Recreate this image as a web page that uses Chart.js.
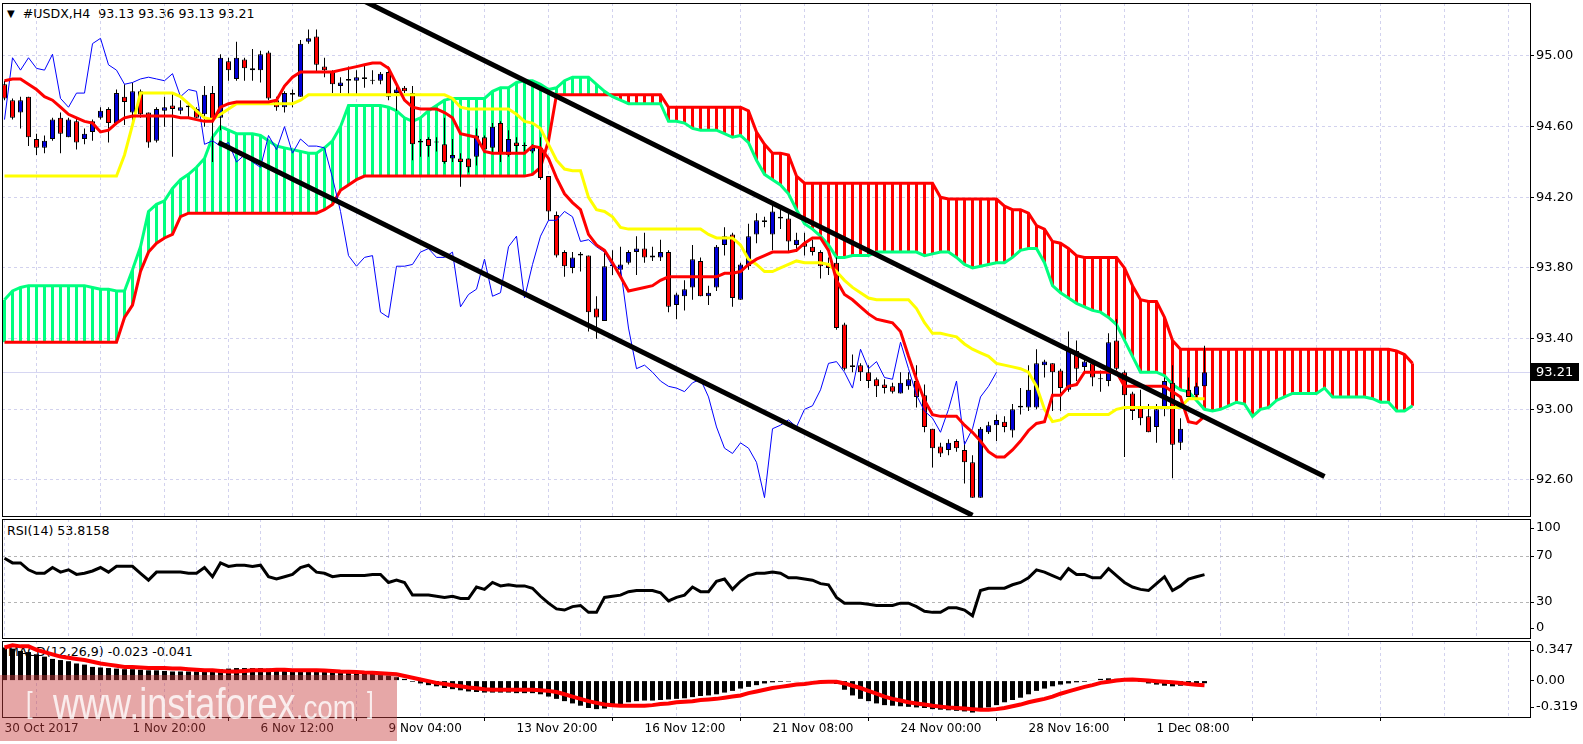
<!DOCTYPE html>
<html><head><meta charset="utf-8">
<script src="https://cdn.jsdelivr.net/npm/chart.js@4.4.1/dist/chart.umd.min.js"></script>
<style>
html,body{margin:0;padding:0;background:#fff;}
#wrap{position:relative;width:1583px;height:744px;overflow:hidden;background:#fff;font-family:"DejaVu Sans",sans-serif;}
canvas{position:absolute;left:0;}
.lbl{position:absolute;font-family:"DejaVu Sans",sans-serif;font-size:12.6px;line-height:14px;color:#000;white-space:pre;}
#title .tri{font-size:10px;vertical-align:1px;}
#wm{position:absolute;left:0;top:675px;width:397px;height:66px;background:rgba(200,60,60,0.45);}
#wm div{position:absolute;font-family:"Liberation Sans",sans-serif;color:rgba(255,255,255,0.8);white-space:pre;transform-origin:0 0;}
</style></head><body>
<div id="wrap">
  <div class="lbl" id="title" style="left:7px;top:7px;"></div>
  <div class="lbl" id="rsiLbl" style="left:7px;top:524px;"></div>
  <div class="lbl" id="macdLbl" style="left:8px;top:645px;"></div>
  <canvas id="cMain" width="1583" height="519" style="top:0px"></canvas>
  <canvas id="cRsi" width="1583" height="122" style="top:518px"></canvas>
  <canvas id="cMacd" width="1583" height="105" style="top:639px"></canvas>
  <div id="wm">
    <div style="left:26px;top:13px;font-size:30px;line-height:30px;transform:scaleX(0.8);">[</div>
    <div style="left:53px;top:7px;font-size:44px;line-height:44px;transform:scaleX(0.82);">www.instaforex<span style="font-size:34px">.com</span></div>
    <div style="left:367px;top:13px;font-size:30px;line-height:30px;transform:scaleX(0.8);">]</div>
  </div>
</div>
<script>
// ---------------- DATA ----------------
const symbol = '#USDX,H4';
const dateLabels = ['30 Oct 2017','1 Nov 20:00','6 Nov 12:00','9 Nov 04:00','13 Nov 20:00','16 Nov 12:00','21 Nov 08:00','24 Nov 00:00','28 Nov 16:00','1 Dec 08:00'];
const priceTicks = [92.60, 93.00, 93.40, 93.80, 94.20, 94.60, 95.00];
const rsiLevels = [0, 30, 70, 100];
const macdLevels = [-0.319, 0, 0.347];

const openP = [94.84,94.75,94.68,94.77,94.53,94.48,94.53,94.65,94.54,94.63,
94.53,94.57,94.65,94.70,94.62,94.77,94.68,94.80,94.68,94.52,
94.69,94.72,94.69,94.72,94.70,94.67,94.79,94.65,94.97,94.87,
94.98,94.93,94.92,95.02,94.75,94.71,94.78,94.77,95.08,95.11,
94.94,94.91,94.83,94.86,94.86,94.88,94.86,94.86,94.91,94.79,
94.82,94.79,94.51,94.53,94.51,94.50,94.42,94.42,94.42,94.43,
94.54,94.48,94.62,94.44,94.51,94.49,94.46,94.48,94.32,94.10,
93.89,93.80,93.88,93.87,93.57,93.50,93.82,93.79,93.83,93.89,
93.91,93.87,93.86,93.89,93.59,93.64,93.69,93.84,93.64,93.69,
93.93,93.99,93.62,93.81,93.99,94.06,93.99,94.08,94.08,93.93,
93.94,93.92,93.89,93.82,93.83,93.48,93.24,93.25,93.21,93.17,
93.14,93.13,93.09,93.13,93.16,93.08,92.89,92.79,92.77,92.82,
92.77,92.70,92.50,92.87,92.91,92.93,92.88,93.01,93.01,93.01,
93.25,93.26,93.22,93.11,93.33,93.24,93.26,93.17,93.16,93.39,
93.21,93.09,93.01,92.96,92.90,93.01,93.15,92.81,93.11,93.08,
93.13];
const highP = [94.86,94.76,94.77,94.77,94.56,94.55,94.65,94.68,94.65,94.65,
94.59,94.64,94.71,94.71,94.81,94.84,94.85,94.81,94.68,94.71,
94.77,94.79,94.75,94.74,94.71,94.83,94.83,95.01,94.99,95.08,
94.99,95.04,95.03,95.03,94.77,94.80,94.81,95.09,95.15,95.15,
94.99,94.92,94.88,94.94,94.92,94.95,94.92,94.91,94.94,94.84,
94.83,94.83,94.53,94.54,94.54,94.65,94.53,94.45,94.42,94.59,
94.55,94.62,94.63,94.58,94.54,94.51,94.50,94.54,94.32,94.12,
93.90,93.89,93.89,93.87,93.64,93.90,93.90,93.92,93.90,93.98,
94.00,93.92,93.96,93.90,93.66,93.73,93.93,93.86,93.70,93.93,
94.03,94.00,93.83,94.05,94.11,94.09,94.16,94.15,94.11,94.00,
94.00,93.96,93.90,93.86,93.86,93.49,93.31,93.26,93.25,93.18,
93.17,93.15,93.21,93.21,93.25,93.14,92.89,92.81,92.83,92.83,
92.82,92.74,92.90,92.93,92.97,92.96,93.03,93.12,93.25,93.34,
93.28,93.26,93.23,93.44,93.39,93.29,93.26,93.22,93.43,93.51,
93.22,93.10,93.11,93.03,93.03,93.18,93.25,92.95,93.18,93.15,
93.36];
const lowP = [94.75,94.64,94.59,94.49,94.44,94.45,94.52,94.45,94.54,94.47,
94.50,94.52,94.64,94.51,94.61,94.61,94.61,94.65,94.48,94.51,
94.60,94.43,94.67,94.65,94.65,94.60,94.40,94.58,94.86,94.86,
94.86,94.86,94.85,94.75,94.69,94.68,94.71,94.77,95.07,94.91,
94.88,94.79,94.79,94.78,94.78,94.82,94.84,94.84,94.75,94.69,
94.79,94.41,94.43,94.43,94.46,94.39,94.40,94.26,94.34,94.38,
94.45,94.45,94.40,94.43,94.45,94.46,94.45,94.30,94.07,93.86,
93.75,93.77,93.78,93.44,93.40,93.50,93.76,93.76,93.82,93.76,
93.83,93.84,93.84,93.55,93.51,93.56,93.62,93.64,93.59,93.67,
93.87,93.58,93.62,93.79,93.94,94.03,93.90,94.02,93.89,93.89,
93.87,93.87,93.74,93.76,93.45,93.22,93.21,93.16,93.12,93.07,
93.09,93.09,93.09,93.11,93.01,92.87,92.67,92.73,92.74,92.76,
92.58,92.50,92.50,92.86,92.82,92.87,92.84,92.97,92.99,93.00,
93.18,92.99,92.99,93.10,93.16,93.21,93.13,93.10,93.13,93.22,
92.73,92.94,92.91,92.87,92.81,92.96,92.61,92.77,93.07,93.07,
93.13];
const closeP = [94.76,94.65,94.75,94.54,94.48,94.52,94.64,94.56,94.64,94.51,
94.56,94.63,94.69,94.62,94.79,94.74,94.80,94.67,94.51,94.70,
94.71,94.70,94.71,94.71,94.65,94.78,94.64,94.99,94.92,94.99,
94.93,94.92,95.01,94.76,94.71,94.79,94.79,95.07,95.10,94.95,
94.92,94.84,94.85,94.87,94.88,94.87,94.86,94.90,94.77,94.81,
94.80,94.50,94.52,94.49,94.51,94.40,94.44,94.40,94.37,94.55,
94.47,94.60,94.45,94.53,94.49,94.49,94.48,94.31,94.12,93.87,
93.81,93.86,93.87,93.55,93.52,93.81,93.81,93.82,93.89,93.91,
93.86,93.86,93.89,93.58,93.65,93.68,93.85,93.64,93.66,93.92,
93.98,93.63,93.82,93.98,94.07,94.07,94.12,94.09,93.95,93.96,
93.92,93.89,93.81,93.80,93.46,93.23,93.25,93.21,93.16,93.13,
93.12,93.10,93.15,93.17,93.07,92.90,92.78,92.75,92.81,92.78,
92.70,92.50,92.89,92.91,92.94,92.90,93.00,93.02,93.11,93.26,
93.27,93.21,93.12,93.34,93.23,93.27,93.18,93.17,93.38,93.23,
93.08,92.99,92.95,92.87,93.00,93.16,92.80,92.89,93.07,93.13,
93.21];

const tenkan = [94.86,94.87,94.87,94.84,94.81,94.77,94.75,94.71,94.67,94.65,
94.63,94.62,94.57,94.58,94.62,94.65,94.66,94.66,94.66,94.66,
94.66,94.66,94.65,94.65,94.64,94.63,94.63,94.71,94.73,94.74,
94.74,94.74,94.74,94.74,94.75,94.83,94.88,94.91,94.91,94.91,
94.91,94.91,94.92,94.93,94.94,94.95,94.96,94.96,94.93,94.84,
94.75,94.71,94.70,94.70,94.70,94.68,94.65,94.56,94.55,94.54,
94.46,94.45,94.45,94.45,94.45,94.45,94.49,94.48,94.42,94.31,
94.22,94.17,94.13,93.99,93.93,93.90,93.83,93.75,93.67,93.68,
93.69,93.70,93.73,93.75,93.75,93.75,93.75,93.75,93.75,93.75,
93.77,93.77,93.78,93.82,93.85,93.87,93.89,93.89,93.89,93.90,
93.94,93.97,93.97,93.90,93.73,93.65,93.62,93.58,93.54,93.51,
93.50,93.49,93.44,93.30,93.17,93.05,92.97,92.96,92.96,92.96,
92.91,92.87,92.82,92.76,92.73,92.73,92.77,92.82,92.88,92.92,
92.93,93.08,93.08,93.13,93.14,93.21,93.21,93.21,93.21,93.21,
93.13,93.13,93.13,93.13,93.13,93.13,93.10,93.07,92.93,92.92,
92.96];
const kijun = [94.32,94.32,94.32,94.32,94.32,94.32,94.32,94.32,94.32,94.32,
94.32,94.32,94.32,94.32,94.32,94.44,94.61,94.79,94.79,94.79,
94.79,94.79,94.77,94.73,94.69,94.65,94.64,94.67,94.70,94.73,
94.73,94.73,94.73,94.73,94.73,94.73,94.73,94.75,94.78,94.78,
94.78,94.78,94.78,94.78,94.78,94.78,94.78,94.78,94.78,94.78,
94.78,94.78,94.78,94.78,94.78,94.78,94.76,94.71,94.70,94.70,
94.70,94.70,94.70,94.70,94.67,94.63,94.62,94.59,94.50,94.41,
94.36,94.35,94.35,94.20,94.13,94.12,94.09,94.03,94.02,94.02,
94.02,94.02,94.02,94.02,94.02,94.02,94.02,94.02,93.99,93.97,
93.97,93.97,93.93,93.85,93.82,93.78,93.78,93.80,93.82,93.84,
93.83,93.83,93.83,93.82,93.78,93.73,93.69,93.66,93.63,93.62,
93.62,93.62,93.62,93.62,93.57,93.49,93.43,93.43,93.42,93.41,
93.37,93.34,93.32,93.30,93.26,93.25,93.24,93.23,93.21,93.13,
93.00,92.93,92.94,92.97,92.97,92.97,92.97,92.97,92.97,93.00,
93.01,93.01,93.01,93.01,93.01,93.01,93.01,93.01,93.06,93.06,
93.06];
const senkouA = [93.62,93.67,93.69,93.70,93.70,93.70,93.70,93.70,93.70,93.70,
93.70,93.69,93.68,93.68,93.67,93.67,93.79,93.92,94.12,94.16,
94.18,94.25,94.30,94.33,94.37,94.42,94.54,94.60,94.58,94.56,
94.56,94.56,94.55,94.52,94.49,94.48,94.47,94.46,94.45,94.45,
94.48,94.52,94.60,94.72,94.72,94.72,94.72,94.72,94.71,94.69,
94.65,94.63,94.65,94.69,94.72,94.75,94.76,94.76,94.76,94.76,
94.76,94.80,94.82,94.82,94.85,94.86,94.86,94.84,94.81,94.82,
94.86,94.88,94.88,94.88,94.84,94.80,94.77,94.75,94.73,94.73,
94.73,94.73,94.73,94.63,94.63,94.62,94.59,94.58,94.58,94.58,
94.56,94.54,94.55,94.51,94.41,94.33,94.30,94.27,94.22,94.13,
94.05,94.02,93.98,93.93,93.86,93.86,93.87,93.87,93.87,93.89,
93.89,93.89,93.89,93.89,93.89,93.87,93.88,93.89,93.89,93.86,
93.82,93.80,93.81,93.82,93.83,93.83,93.86,93.90,93.91,93.91,
93.83,93.70,93.66,93.63,93.60,93.58,93.56,93.55,93.52,93.48,
93.39,93.30,93.21,93.21,93.21,93.19,93.14,93.11,93.10,93.05,
93.00,92.99,93.00,93.02,93.04,93.03,92.96,93.00,93.01,93.05,
93.07,93.09,93.09,93.09,93.09,93.12,93.07,93.07,93.07,93.07,
93.07,93.06,93.04,93.04,92.99,92.99,93.02];
const senkouB = [93.38,93.38,93.38,93.38,93.38,93.38,93.38,93.38,93.38,93.38,
93.38,93.38,93.38,93.38,93.38,93.52,93.59,93.78,93.89,93.94,
93.97,93.99,94.09,94.11,94.11,94.11,94.11,94.11,94.11,94.11,
94.11,94.11,94.11,94.11,94.11,94.11,94.11,94.11,94.11,94.11,
94.13,94.16,94.24,94.27,94.30,94.32,94.32,94.32,94.32,94.32,
94.32,94.32,94.32,94.32,94.32,94.32,94.32,94.32,94.32,94.32,
94.32,94.32,94.32,94.32,94.32,94.32,94.33,94.37,94.52,94.78,
94.78,94.78,94.78,94.78,94.78,94.78,94.78,94.78,94.78,94.78,
94.78,94.78,94.78,94.71,94.71,94.71,94.71,94.71,94.71,94.71,
94.71,94.71,94.71,94.69,94.57,94.50,94.45,94.45,94.44,94.32,
94.28,94.28,94.28,94.28,94.28,94.28,94.28,94.28,94.28,94.28,
94.28,94.28,94.28,94.28,94.28,94.28,94.28,94.20,94.19,94.19,
94.19,94.19,94.19,94.19,94.19,94.15,94.13,94.13,94.11,94.04,
94.02,93.95,93.94,93.91,93.87,93.86,93.86,93.86,93.86,93.86,
93.80,93.70,93.62,93.61,93.61,93.52,93.39,93.34,93.34,93.34,
93.34,93.34,93.34,93.34,93.34,93.34,93.34,93.34,93.34,93.34,
93.34,93.34,93.34,93.34,93.34,93.34,93.34,93.34,93.34,93.34,
93.34,93.34,93.34,93.34,93.33,93.31,93.26];
const chikou = [94.64,94.99,94.92,94.99,94.93,94.92,95.01,94.76,94.71,94.79,
94.79,95.07,95.10,94.95,94.92,94.84,94.85,94.87,94.88,94.87,
94.86,94.90,94.77,94.81,94.80,94.50,94.52,94.49,94.51,94.40,
94.44,94.40,94.37,94.55,94.47,94.60,94.45,94.53,94.49,94.49,
94.48,94.31,94.12,93.87,93.81,93.86,93.87,93.55,93.52,93.81,
93.81,93.82,93.89,93.91,93.86,93.86,93.89,93.58,93.65,93.68,
93.85,93.64,93.66,93.92,93.98,93.63,93.82,93.98,94.07,94.07,
94.12,94.09,93.95,93.96,93.92,93.89,93.81,93.80,93.46,93.23,
93.25,93.21,93.16,93.13,93.12,93.10,93.15,93.17,93.07,92.90,
92.78,92.75,92.81,92.78,92.70,92.50,92.89,92.91,92.94,92.90,
93.00,93.02,93.11,93.26,93.27,93.21,93.12,93.34,93.23,93.27,
93.18,93.17,93.38,93.23,93.08,92.99,92.95,92.87,93.00,93.16,
92.80,92.89,93.07,93.13,93.21];
const upperTrend = [[45, 95.31], [165, 92.62]];
const lowerTrend = [[26.75, 94.51], [121, 92.40]];

const rsi = [68,64,64,58,55,55,60,56,58,54,
55,57,60,56,61,61,61,55,49,56,
56,56,56,55,55,60,52,64,61,62,
62,61,62,52,50,52,54,60,62,56,
55,52,53,53,53,53,54,54,47,49,
47,36,36,36,35,34,35,33,33,43,
41,47,44,45,44,44,42,35,29,24,
23,26,27,21,21,34,35,36,39,40,
40,40,38,31,34,36,43,39,39,48,
50,41,48,53,55,55,56,55,51,51,
50,49,46,45,34,29,29,29,28,27,
27,27,29,29,26,22,21,21,25,25,
23,18,40,42,42,42,45,47,51,58,
56,53,50,59,54,54,51,51,59,53,
47,43,41,40,46,52,40,44,50,52,
53.8158];
const macdHist = [0.29,0.28,0.26,0.25,0.23,0.21,0.19,0.18,0.17,0.15,
0.14,0.12,0.115,0.11,0.105,0.10,0.10,0.095,0.09,0.09,
0.085,0.08,0.08,0.08,0.08,0.085,0.09,0.10,0.105,0.11,
0.11,0.11,0.11,0.105,0.10,0.10,0.095,0.095,0.095,0.09,
0.085,0.08,0.08,0.075,0.07,0.065,0.06,0.06,0.045,0.03,
0.015,-0.01,-0.025,-0.04,-0.05,-0.065,-0.075,-0.085,-0.095,-0.10,
-0.105,-0.105,-0.105,-0.105,-0.11,-0.11,-0.11,-0.12,-0.14,-0.16,
-0.18,-0.20,-0.22,-0.24,-0.25,-0.245,-0.23,-0.21,-0.19,-0.18,
-0.175,-0.175,-0.17,-0.165,-0.16,-0.155,-0.145,-0.135,-0.13,-0.12,
-0.105,-0.09,-0.07,-0.055,-0.04,-0.025,-0.015,-0.01,-0.008,-0.005,
-0.005,-0.003,-0.002,-0.002,-0.03,-0.08,-0.13,-0.16,-0.18,-0.20,
-0.215,-0.22,-0.225,-0.23,-0.235,-0.24,-0.25,-0.255,-0.26,-0.265,
-0.27,-0.28,-0.255,-0.235,-0.215,-0.19,-0.17,-0.15,-0.12,-0.09,
-0.07,-0.05,-0.035,-0.025,-0.015,-0.01,0.005,0.015,0.02,0.015,
0.005,0.0,-0.01,-0.025,-0.035,-0.045,-0.05,-0.045,-0.04,-0.03,
-0.023];
const macdSignal = [0.29,0.31,0.30,0.30,0.27,0.25,0.23,0.21,0.20,0.19,
0.18,0.165,0.15,0.14,0.13,0.12,0.12,0.115,0.11,0.11,
0.11,0.105,0.105,0.10,0.095,0.09,0.09,0.085,0.08,0.08,
0.085,0.09,0.09,0.09,0.095,0.095,0.09,0.09,0.09,0.09,
0.088,0.085,0.08,0.078,0.075,0.07,0.068,0.065,0.06,0.055,
0.04,0.025,0.01,-0.005,-0.02,-0.03,-0.04,-0.05,-0.06,-0.068,
-0.075,-0.08,-0.08,-0.08,-0.08,-0.08,-0.08,-0.085,-0.09,-0.10,
-0.12,-0.14,-0.16,-0.18,-0.195,-0.21,-0.215,-0.22,-0.22,-0.22,
-0.22,-0.215,-0.205,-0.20,-0.19,-0.185,-0.18,-0.17,-0.165,-0.16,
-0.15,-0.14,-0.13,-0.11,-0.095,-0.08,-0.065,-0.055,-0.045,-0.035,
-0.03,-0.02,-0.012,-0.01,-0.01,-0.025,-0.045,-0.065,-0.09,-0.115,
-0.14,-0.16,-0.175,-0.19,-0.20,-0.21,-0.22,-0.228,-0.235,-0.24,
-0.245,-0.25,-0.255,-0.255,-0.25,-0.24,-0.225,-0.21,-0.19,-0.175,
-0.16,-0.14,-0.115,-0.095,-0.075,-0.055,-0.04,-0.02,-0.01,0.0,
0.008,0.01,0.005,0.0,-0.005,-0.01,-0.015,-0.022,-0.03,-0.036,
-0.041];

// ---------------- STYLE ----------------
const C_RED = '#ff0000', C_CANDLE_BLUE = '#0000d8', C_BLUE = '#0000ff', C_GREEN = '#00ff7f', C_YELLOW = '#ffff00';
const GRID = '#d2d2ee';
const FONT = 'DejaVu Sans';
const X_MIN = -0.3125, X_MAX = 190.6875;
const N = closeP.length;
const pts = arr => arr.map((v, i) => ({x: i, y: v}));

document.getElementById('title').innerHTML = '<span class="tri">\u25BC</span>  ' + symbol + '  ' +
  [openP[N-1], highP[N-1], lowP[N-1], closeP[N-1]].map(v => v.toFixed(2)).join(' ');
document.getElementById('rsiLbl').textContent = 'RSI(14) ' + rsi[N-1].toFixed(4);
document.getElementById('macdLbl').textContent = 'MACD(12,26,9) ' + macdHist[N-1].toFixed(3) + ' ' + macdSignal[N-1].toFixed(3);

function noPad(ax) { ax.paddingTop = 0; ax.paddingBottom = 0; ax.paddingLeft = 0; ax.paddingRight = 0; }
function xScale(showLabels) {
  return {
    type: 'linear', min: X_MIN, max: X_MAX, offset: false,
    afterBuildTicks: ax => { const t = []; for (let v = 0; v <= X_MAX; v += 8) t.push({value: v}); ax.ticks = t; },
    afterFit: ax => { ax.height = showLabels ? 27 : 0; noPad(ax); },
    grid: { color: GRID, lineWidth: 1, drawTicks: showLabels, tickLength: 4,
      tickColor: c => (c.tick && c.tick.value % 16 === 0) ? '#000' : 'rgba(0,0,0,0)' },
    border: { display: false, dash: [3, 3] },
    ticks: { display: showLabels, autoSkip: false, maxRotation: 0, minRotation: 0, align: 'start', padding: 1,
      color: '#000', font: {family: FONT, size: 12},
      callback: v => (v % 16 === 0 && dateLabels[v / 16]) ? dateLabels[v / 16] : '' }
  };
}
function clampTicks(levels, min, max, hPx, topInset, botInset) {
  const u = (max - min) / hPx;
  return levels.map(v => ({value: Math.min(Math.max(v, min + botInset * u), max - topInset * u), lvl: v}));
}
const framePlugin = {
  id: 'frame',
  afterDraw(chart) {
    const {ctx, chartArea: a} = chart;
    ctx.save(); ctx.strokeStyle = '#000'; ctx.lineWidth = 1;
    ctx.strokeRect(a.left + 0.5, a.top + 0.5, a.right - a.left, a.bottom - a.top);
    ctx.restore();
  }
};
const priceMarker = {
  id: 'priceMarker',
  beforeDatasetsDraw(chart) {
    const {ctx, chartArea: a, scales: {y}} = chart;
    const py = Math.round(y.getPixelForValue(closeP[N-1])) + 0.5;
    ctx.save(); ctx.strokeStyle = '#d6d6f2'; ctx.lineWidth = 1;
    ctx.beginPath(); ctx.moveTo(a.left, py); ctx.lineTo(a.right, py); ctx.stroke(); ctx.restore();
  },
  afterDraw(chart) {
    const {ctx, chartArea: a, scales: {y}} = chart;
    const py = Math.round(y.getPixelForValue(closeP[N-1]));
    ctx.save(); ctx.fillStyle = '#000'; ctx.fillRect(a.right + 1, py - 9, 48, 18);
    ctx.fillStyle = '#fff'; ctx.font = '13px "' + FONT + '"'; ctx.textBaseline = 'middle'; ctx.textAlign = 'left';
    ctx.fillText(closeP[N-1].toFixed(2), a.right + 6, py + 1); ctx.restore();
  }
};
const common = {
  responsive: false, animation: false, devicePixelRatio: 1, events: [],
  plugins: { legend: {display: false}, tooltip: {enabled: false}, title: {display: false} }
};
const lineDs = (data, color, width, order) => ({ type: 'line', data, borderColor: color, borderWidth: width,
  pointRadius: 0, tension: 0, fill: false, clip: 0, order, borderCapStyle: 'butt' });
const yAxis = (min, max, ticksFn, gridColor, labelFn) => ({
  type: 'linear', position: 'right', min, max,
  afterBuildTicks: ax => { ax.ticks = ticksFn(); },
  afterFit: ax => { ax.width = 53; noPad(ax); },
  grid: { color: gridColor, drawTicks: true, tickLength: 4, tickColor: '#000' },
  border: { display: false, dash: [3, 3] },
  ticks: { color: '#000', font: {family: FONT, size: 13}, padding: 2, crossAlign: 'near', autoSkip: false, callback: labelFn }
});

// ---------------- MAIN ----------------
const hatchData = senkouA.map((a, i) => ({x: i, y: [Math.min(a, senkouB[i]), Math.max(a, senkouB[i])]}));
const hatchColors = senkouA.map((a, i) => a >= senkouB[i] ? C_GREEN : C_RED);
new Chart(document.getElementById('cMain'), {
  type: 'bar',
  data: { datasets: [
    lineDs(upperTrend.map(p => ({x: p[0], y: p[1]})), '#000', 5, 0),
    lineDs(lowerTrend.map(p => ({x: p[0], y: p[1]})), '#000', 5, 0),
    lineDs(pts(tenkan), C_RED, 3, 1),
    lineDs(pts(kijun), C_YELLOW, 3, 2),
    lineDs(pts(chikou), C_BLUE, 1, 3),
    { type: 'bar', order: 4, data: openP.map((o, i) => ({x: i, y: [o, closeP[i]]})),
      backgroundColor: openP.map((o, i) => closeP[i] > o ? C_CANDLE_BLUE : (closeP[i] < o ? C_RED : '#000')),
      borderColor: '#000', borderWidth: 1, borderSkipped: false, minBarLength: 1, barThickness: 5, grouped: false, inflateAmount: 0 },
    { type: 'bar', order: 5, data: lowP.map((l, i) => ({x: i, y: [l, highP[i]]})),
      backgroundColor: '#000', borderWidth: 0, barThickness: 1, grouped: false, inflateAmount: 0 },
    lineDs(pts(senkouA), C_GREEN, 3, 6),
    lineDs(pts(senkouB), C_RED, 3, 7),
    { type: 'bar', order: 8, data: hatchData, backgroundColor: hatchColors, borderWidth: 0, barThickness: 3, grouped: false, inflateAmount: 0 }
  ]},
  options: Object.assign({}, common, {
    layout: { padding: {left: 2, right: 0, top: 3, bottom: 3} },
    scales: {
      x: xScale(false),
      y: yAxis(92.396, 95.30, () => priceTicks.map(v => ({value: v})), GRID, v => v.toFixed(2))
    }
  }),
  plugins: [framePlugin, priceMarker]
});

// ---------------- RSI ----------------
const RSI_MIN = -1.3, RSI_MAX = 102.2;
new Chart(document.getElementById('cRsi'), {
  type: 'line',
  data: { datasets: [ lineDs(pts(rsi), '#000', 3, 0) ] },
  options: Object.assign({}, common, {
    layout: { padding: {left: 2, right: 0, top: 1, bottom: 2} },
    scales: {
      x: xScale(false),
      y: yAxis(RSI_MIN, RSI_MAX, () => clampTicks(rsiLevels, RSI_MIN, RSI_MAX, 119, 9, 10),
        c => (c.tick && (c.tick.value === 30 || c.tick.value === 70)) ? '#b4b4b4' : 'rgba(0,0,0,0)',
        (v, i, t) => String(t[i].lvl))
    }
  }),
  plugins: [framePlugin]
});

// ---------------- MACD ----------------
const M_MIN = -0.319, M_MAX = 0.347;
new Chart(document.getElementById('cMacd'), {
  type: 'bar',
  data: { datasets: [
    lineDs(pts(macdSignal), C_RED, 4, 0),
    { type: 'bar', order: 1, data: pts(macdHist), backgroundColor: '#000', borderWidth: 0, barThickness: 5, grouped: false, inflateAmount: 0 }
  ]},
  options: Object.assign({}, common, {
    layout: { padding: {left: 2, right: 0, top: 2, bottom: 0} },
    scales: {
      x: xScale(true),
      y: yAxis(M_MIN, M_MAX, () => clampTicks(macdLevels, M_MIN, M_MAX, 76, 9, 10), 'rgba(0,0,0,0)',
        (v, i, t) => t[i].lvl === 0 ? '0.00' : t[i].lvl.toFixed(3))
    }
  }),
  plugins: [framePlugin]
});
</script>
</body></html>
